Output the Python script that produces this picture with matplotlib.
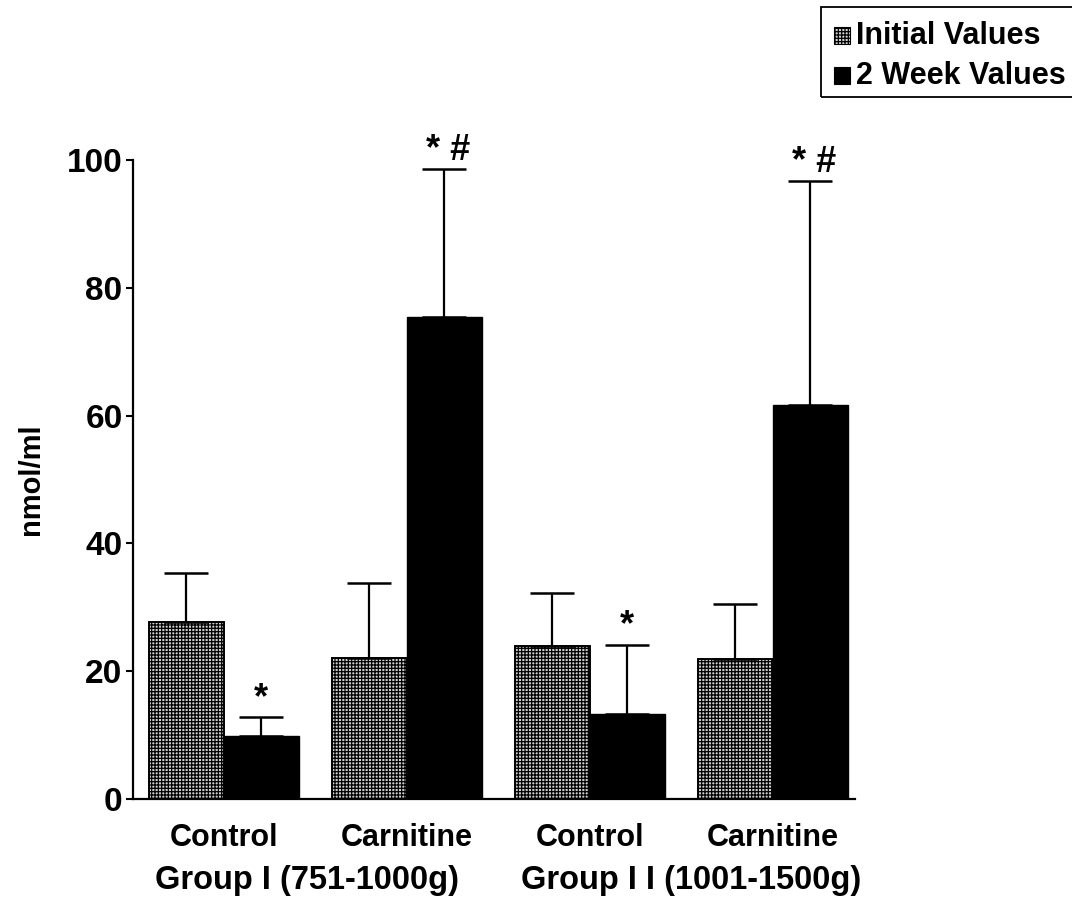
import matplotlib
matplotlib.use("Agg")
import matplotlib.pyplot as plt
import numpy as np
from matplotlib.patches import Rectangle

plt.rcParams['font.family'] = ['Liberation Sans', 'DejaVu Sans']
plt.rcParams['font.weight'] = 'bold'
plt.rcParams['hatch.linewidth'] = 0.9

categories = ["Control", "Carnitine", "Control", "Carnitine"]
groups = ["Group I (751-1000g)", "Group I I (1001-1500g)"]
initial_vals = [27.7, 22.1, 23.9, 21.9]
initial_err = [7.7, 11.7, 8.3, 8.6]
week2_vals = [9.9, 75.4, 13.3, 61.7]
week2_err = [2.9, 23.2, 10.8, 35.0]
annotations = ["*", "* #", "*", "* #"]
series_names = ["Initial Values", "2 Week Values"]
yticks = [0, 20, 40, 60, 80, 100]

FS = 22
HATCH = '+++++'
HFACE = '#cfcfcf'

fig = plt.figure(figsize=(10.72, 8.98), dpi=100)
ax = fig.add_axes([0.124, 0.1102, 0.6735, 0.7116])

x = np.arange(len(categories))
w = 0.41
err_kw = dict(ecolor='black', elinewidth=1.6, capsize=15.5, capthick=1.8)
ax.bar(x - w / 2, initial_vals, w, color=HFACE, edgecolor='black',
       hatch=HATCH, linewidth=1.4,
       yerr=[np.zeros(4), initial_err], error_kw=err_kw, zorder=2)
ax.bar(x + w / 2, week2_vals, w, color='black', edgecolor='black',
       linewidth=1.0, yerr=[np.zeros(4), week2_err], error_kw=err_kw, zorder=2)

for xi, v, e, a in zip(x, week2_vals, week2_err, annotations):
    ax.annotate(a, (xi + w / 2, v + e), xytext=(3 if len(a) > 1 else 0, 1),
                textcoords='offset points', ha='center', va='bottom',
                fontsize=FS + 4, fontweight='bold', annotation_clip=False)

ax.set_xlim(-0.497, 3.45)
ax.set_ylim(0, 100)
ax.set_yticks(yticks)
ax.set_yticklabels([str(t) for t in yticks], fontsize=24, fontweight='bold')
ax.set_xticks(x)
ax.set_xticklabels(categories, fontsize=FS, fontweight='bold')
ax.tick_params(axis='x', length=0, pad=17)
ax.tick_params(axis='y', length=5, width=1.5, pad=2.5, direction='out')
for s in ['top', 'right']:
    ax.spines[s].set_visible(False)
for s in ['left', 'bottom']:
    ax.spines[s].set_linewidth(1.6)

ax.set_ylabel("nmol/ml", fontsize=21, fontweight='bold', labelpad=16)

for gi, g in enumerate(groups):
    ax.annotate(g, (gi * 2 - 0.375, 0), xycoords=('data', 'axes fraction'),
                xytext=(0, -47.5), textcoords='offset points', ha='left', va='top',
                fontsize=23.5, fontweight='bold', annotation_clip=False)

# legend box
W, H = 1072, 898
def fx(px):
    return px / W
def fy(py):
    return 1 - py / H
fig.patches.append(Rectangle((fx(821), fy(97)), fx(1072) - fx(821) + 0.01, fy(7) - fy(97),
                             transform=fig.transFigure, fill=False, edgecolor='black',
                             linewidth=1.3, clip_on=False))
fig.patches.append(Rectangle((fx(834), fy(44)), fx(850) - fx(834), fy(27) - fy(44),
                             transform=fig.transFigure, facecolor=HFACE, edgecolor='black',
                             hatch=HATCH, linewidth=0.8))
fig.patches.append(Rectangle((fx(834), fy(84)), fx(850) - fx(834), fy(67) - fy(84),
                             transform=fig.transFigure, facecolor='black', edgecolor='black',
                             linewidth=0.8))
fig.text(fx(856), fy(36), series_names[0], fontsize=FS, fontweight='bold', va='center', ha='left')
fig.text(fx(856), fy(76), series_names[1], fontsize=FS, fontweight='bold', va='center', ha='left')

fig.savefig("out.png", dpi=100)
